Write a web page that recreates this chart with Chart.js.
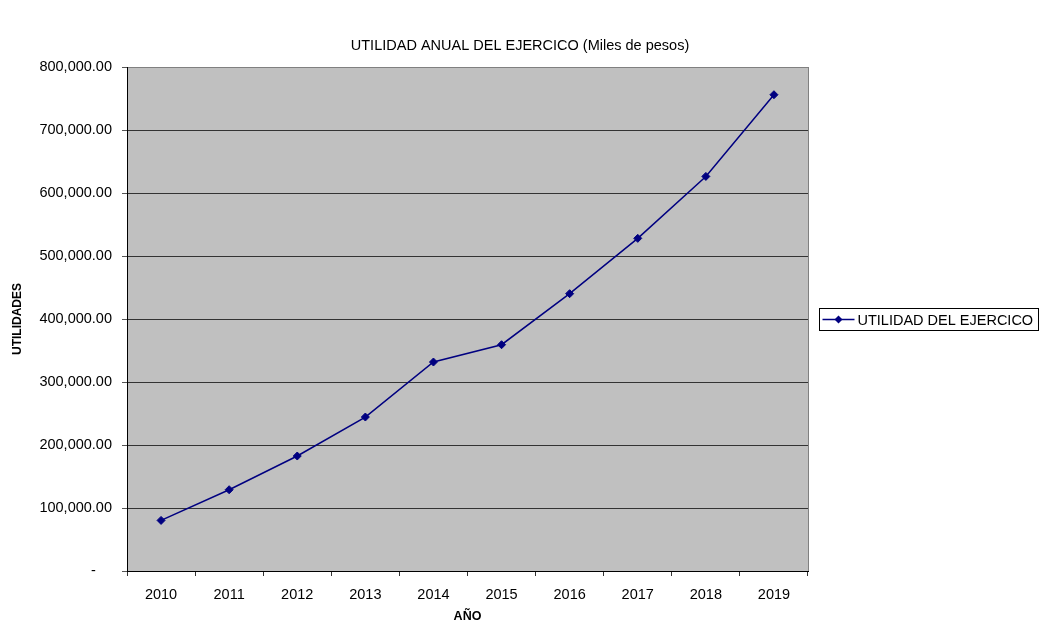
<!DOCTYPE html>
<html>
<head>
<meta charset="utf-8">
<title>Utilidad anual del ejercicio</title>
<script src="https://cdn.jsdelivr.net/npm/chart.js@4/dist/chart.umd.min.js"></script>
<style>
    html, body { margin: 0; padding: 0; background: #fff; }
    #wrap { width: 1040px; height: 625px; position: relative; }
</style>
</head>
<body>
<div id="wrap"><canvas id="utilChart"></canvas></div>
<script>
'use strict';

// Years on the category axis
const years = ['2010', '2011', '2012', '2013', '2014', '2015', '2016', '2017', '2018', '2019'];

// Yearly profit (miles de pesos)
const utilidades = [80300, 129000, 182500, 244400, 331700, 359200, 440200, 528000, 626300, 756000];

// Value axis range
const yMin = 0;
const yMax = 800000;
const yStep = 100000;

const chartTitle = 'UTILIDAD ANUAL DEL EJERCICO (Miles de pesos)';
const seriesLabel = 'UTILIDAD DEL EJERCICO';
const lineColor = '#000080';

const fontFamily = 'Arial, "Liberation Sans", sans-serif';
Chart.defaults.font.family = fontFamily;
Chart.defaults.color = '#000';

// Number format like "700,000.00", zero shown as a dash
function formatMoney(value) {
    if (value === 0) return '-    ';
    return value.toLocaleString('en-US', { minimumFractionDigits: 2, maximumFractionDigits: 2 });
}

// Grey plot background plus the light right frame
const plotFrame = {
    id: 'plotFrame',
    beforeDraw(chart) {
        const { ctx, chartArea: a } = chart;
        ctx.save();
        ctx.fillStyle = '#c0c0c0';
        ctx.fillRect(a.left, a.top, a.right - a.left, a.bottom - a.top);
        ctx.restore();
    },
    beforeDatasetsDraw(chart) {
        const { ctx, chartArea: a } = chart;
        ctx.save();
        ctx.strokeStyle = '#808080';
        ctx.lineWidth = 1;
        ctx.beginPath();
        ctx.moveTo(Math.round(a.right) + 0.5, a.top);
        ctx.lineTo(Math.round(a.right) + 0.5, a.bottom);
        ctx.stroke();
        ctx.restore();
    }
};

// Title centred over the whole canvas (not just the plot)
const pageTitle = {
    id: 'pageTitle',
    afterDraw(chart) {
        const { ctx, width } = chart;
        ctx.save();
        ctx.fillStyle = '#000';
        ctx.font = '14.5px ' + fontFamily;
        ctx.textAlign = 'center';
        ctx.textBaseline = 'middle';
        ctx.fillText(chartTitle, width / 2, 46);
        ctx.restore();
    }
};

// Boxed legend to the right of the plot
const boxLegend = {
    id: 'boxLegend',
    afterDraw(chart) {
        const { ctx } = chart;
        const ds = chart.data.datasets[0];
        const x = 819.5, y = 308.5, w = 219, h = 22;
        const midY = y + h / 2;

        ctx.save();
        ctx.strokeStyle = '#000';
        ctx.lineWidth = 1;
        ctx.strokeRect(x, y, w, h);

        ctx.strokeStyle = ds.borderColor;
        ctx.lineWidth = 1.5;
        ctx.beginPath();
        ctx.moveTo(x + 3, midY);
        ctx.lineTo(x + 35, midY);
        ctx.stroke();

        ctx.fillStyle = ds.borderColor;
        ctx.beginPath();
        ctx.moveTo(x + 19, midY - 4);
        ctx.lineTo(x + 23, midY);
        ctx.lineTo(x + 19, midY + 4);
        ctx.lineTo(x + 15, midY);
        ctx.closePath();
        ctx.fill();

        ctx.fillStyle = '#000';
        ctx.font = '14.5px ' + fontFamily;
        ctx.textBaseline = 'middle';
        ctx.textAlign = 'left';
        ctx.fillText(ds.label, x + 38, midY + 1);
        ctx.restore();
    }
};

const ctx = document.getElementById('utilChart');

new Chart(ctx, {
    type: 'line',
    data: {
        labels: years,
        datasets: [{
            label: seriesLabel,
            data: utilidades,
            borderColor: lineColor,
            backgroundColor: lineColor,
            borderWidth: 1.5,
            tension: 0,
            fill: false,
            pointStyle: 'rectRot',
            pointRadius: 4,
            pointBackgroundColor: lineColor,
            pointBorderColor: lineColor,
            pointBorderWidth: 1
        }]
    },
    options: {
        responsive: true,
        maintainAspectRatio: false,
        animation: false,
        layout: {
            padding: { top: 67, right: 232, bottom: 0, left: 0 }
        },
        plugins: {
            legend: { display: false },
            tooltip: { enabled: false },
            title: { display: false }
        },
        scales: {
            x: {
                offset: true,
                grid: {
                    offset: true,
                    drawOnChartArea: false,
                    drawTicks: true,
                    tickLength: 5,
                    tickColor: '#333'
                },
                border: { color: '#000', width: 1 },
                ticks: {
                    color: '#000',
                    font: { size: 14.5 },
                    padding: 10,
                    maxRotation: 0,
                    autoSkip: false
                },
                title: {
                    display: true,
                    text: 'AÑO',
                    color: '#000',
                    font: { size: 12.5, weight: 'bold' },
                    padding: { top: 0, bottom: 1 }
                },
                afterFit(scale) {
                    scale.height = 54;
                }
            },
            y: {
                min: yMin,
                max: yMax,
                grid: {
                    color: (c) => (c.tick && c.tick.value === yMax ? '#808080' : '#333'),
                    lineWidth: 1,
                    tickLength: 5,
                    tickColor: '#555'
                },
                border: { color: '#000', width: 1 },
                ticks: {
                    stepSize: yStep,
                    color: '#000',
                    font: { size: 14.5 },
                    padding: 10,
                    callback: (value) => formatMoney(value)
                },
                title: {
                    display: true,
                    text: 'UTILIDADES',
                    color: '#000',
                    font: { size: 12, weight: 'bold' },
                    padding: { top: 10, bottom: 0 }
                },
                afterFit(scale) {
                    scale.width = 127;
                }
            }
        }
    },
    plugins: [plotFrame, pageTitle, boxLegend]
});
</script>
</body>
</html>
